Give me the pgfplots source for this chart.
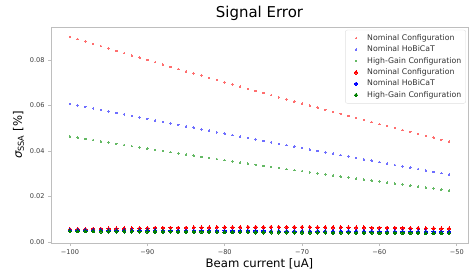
\documentclass[border=0pt]{standalone}
\usepackage{fontspec}
\setmainfont{DejaVu Sans}
\usepackage{pgfplots}
\usepackage{pgfplotstable}
\pgfplotsset{compat=1.18}
\definecolor{lred}{RGB}{255,110,110}
\definecolor{lblue}{RGB}{110,110,255}
\definecolor{lgreen}{RGB}{100,185,100}
\definecolor{mgreen}{RGB}{0,128,0}
\definecolor{spine}{RGB}{190,190,190}
\definecolor{ticktext}{RGB}{60,60,60}
\pgfplotstableread{
x r b g rl bl gl
-100 0.0902 0.0607 0.0464 0.0055 0.0051 0.0047
-99 0.0892 0.0600 0.0458 0.0056 0.0051 0.0047
-98 0.0881 0.0594 0.0453 0.0056 0.0051 0.0047
-97 0.0871 0.0587 0.0448 0.0057 0.0051 0.0047
-96 0.0861 0.0580 0.0442 0.0057 0.0051 0.0046
-95 0.0850 0.0574 0.0437 0.0058 0.0050 0.0046
-94 0.0840 0.0567 0.0431 0.0058 0.0050 0.0046
-93 0.0830 0.0561 0.0426 0.0059 0.0050 0.0046
-92 0.0820 0.0554 0.0421 0.0059 0.0050 0.0046
-91 0.0810 0.0547 0.0415 0.0060 0.0050 0.0045
-90 0.0800 0.0541 0.0410 0.0060 0.0050 0.0045
-89 0.0790 0.0534 0.0405 0.0061 0.0050 0.0045
-88 0.0780 0.0528 0.0400 0.0061 0.0049 0.0045
-87 0.0770 0.0521 0.0395 0.0062 0.0049 0.0045
-86 0.0760 0.0515 0.0389 0.0062 0.0049 0.0044
-85 0.0750 0.0508 0.0384 0.0062 0.0049 0.0044
-84 0.0741 0.0502 0.0379 0.0063 0.0049 0.0044
-83 0.0731 0.0495 0.0374 0.0063 0.0049 0.0044
-82 0.0721 0.0489 0.0369 0.0063 0.0049 0.0044
-81 0.0712 0.0482 0.0364 0.0064 0.0048 0.0043
-80 0.0702 0.0476 0.0359 0.0064 0.0048 0.0043
-79 0.0692 0.0470 0.0354 0.0064 0.0048 0.0043
-78 0.0683 0.0463 0.0349 0.0064 0.0048 0.0043
-77 0.0673 0.0457 0.0344 0.0065 0.0048 0.0043
-76 0.0664 0.0450 0.0339 0.0065 0.0048 0.0042
-75 0.0655 0.0444 0.0334 0.0065 0.0048 0.0042
-74 0.0645 0.0438 0.0330 0.0065 0.0047 0.0042
-73 0.0636 0.0431 0.0325 0.0065 0.0047 0.0042
-72 0.0627 0.0425 0.0320 0.0065 0.0047 0.0042
-71 0.0617 0.0419 0.0315 0.0065 0.0047 0.0041
-70 0.0608 0.0413 0.0311 0.0065 0.0047 0.0041
-69 0.0599 0.0406 0.0306 0.0065 0.0047 0.0041
-68 0.0590 0.0400 0.0301 0.0064 0.0047 0.0041
-67 0.0581 0.0394 0.0297 0.0064 0.0046 0.0041
-66 0.0572 0.0388 0.0292 0.0064 0.0046 0.0040
-65 0.0563 0.0381 0.0287 0.0064 0.0046 0.0040
-64 0.0554 0.0375 0.0283 0.0063 0.0046 0.0040
-63 0.0545 0.0369 0.0278 0.0063 0.0046 0.0040
-62 0.0536 0.0363 0.0274 0.0063 0.0046 0.0040
-61 0.0527 0.0357 0.0269 0.0062 0.0046 0.0040
-60 0.0518 0.0351 0.0265 0.0062 0.0045 0.0039
-59 0.0510 0.0344 0.0260 0.0062 0.0045 0.0039
-58 0.0501 0.0338 0.0256 0.0061 0.0045 0.0039
-57 0.0492 0.0332 0.0252 0.0061 0.0045 0.0039
-56 0.0484 0.0326 0.0247 0.0060 0.0045 0.0039
-55 0.0475 0.0320 0.0243 0.0060 0.0045 0.0039
-54 0.0466 0.0314 0.0239 0.0059 0.0045 0.0038
-53 0.0458 0.0308 0.0234 0.0059 0.0044 0.0038
-52 0.0449 0.0302 0.0230 0.0058 0.0044 0.0038
-51 0.0441 0.0296 0.0226 0.0058 0.0044 0.0038
}\datatable
\begin{document}
\begin{tikzpicture}
\useasboundingbox (-51bp,-29bp) rectangle (418bp,243bp);
\begin{axis}[
  at={(0,0)}, anchor=south west,
  scale only axis,
  width=417bp, height=216bp,
  xmin=-102.45, xmax=-48.55,
  ymin=-0.0005, ymax=0.0945,
  xtick={-100,-90,-80,-70,-60,-50},
  xticklabels={−100,−90,−80,−70,−60,−50},
  ytick={0,0.02,0.04,0.06,0.08},
  yticklabels={0.00,0.02,0.04,0.06,0.08},
  scaled y ticks=false, scaled x ticks=false,
  tick label style={font=\fontsize{6.6}{7.5}\selectfont, text=ticktext},
  xtick pos=bottom, ytick pos=left,
  tick align=outside,
  major tick length=3bp,
  tick style={spine, line width=0.6pt},
  axis line style={spine, line width=0.8pt},
  title={Signal Error},
  title style={font=\fontsize{15}{17}\selectfont, yshift=-3bp},
  xlabel={Beam current [uA]},
  ylabel={{\itshape σ}\textsubscript{SSA} [\%]},
  label style={font=\fontsize{11.7}{13}\selectfont},
  xlabel style={yshift=3bp},
  ylabel style={yshift=-1bp},
  legend image code/.code={\path (0bp,-2bp) (17bp,2bp); \path[#1] plot[only marks] coordinates {(8bp,0bp)};},
  legend style={at={(0.995,0.987)}, anchor=north east, draw=black!12, rounded corners=2pt,
    font=\fontsize{7.8}{9}\selectfont, text=black!80, row sep=0bp, inner xsep=2.5bp, inner ysep=2.5bp},
  legend cell align=left,
]
\addplot[only marks, color=lred, mark=*, mark size=0.75bp, mark options={draw=lred, fill=lred, line width=0pt}] table[x=x,y=r]{\datatable};
\addlegendentry{Nominal Configuration}
\addplot[only marks, color=lblue, mark=*, mark size=0.75bp, mark options={draw=lblue, fill=lblue, line width=0pt}] table[x=x,y=b]{\datatable};
\addlegendentry{Nominal HoBiCaT}
\addplot[only marks, color=lgreen, mark=*, mark size=0.75bp, mark options={draw=lgreen, fill=lgreen, line width=0pt}] table[x=x,y=g]{\datatable};
\addlegendentry{High-Gain Configuration}
\addplot[only marks, color=red, mark=*, mark size=1.7bp, mark options={draw=red, fill=red, line width=0pt}] table[x=x,y=rl]{\datatable};
\addlegendentry{Nominal Configuration}
\addplot[only marks, color=blue, mark=*, mark size=1.7bp, mark options={draw=blue, fill=blue, line width=0pt}] table[x=x,y=bl]{\datatable};
\addlegendentry{Nominal HoBiCaT}
\addplot[only marks, color=mgreen, mark=*, mark size=1.7bp, mark options={draw=mgreen, fill=mgreen, line width=0pt}] table[x=x,y=gl]{\datatable};
\addlegendentry{High-Gain Configuration}
\end{axis}
\end{tikzpicture}
\end{document}
